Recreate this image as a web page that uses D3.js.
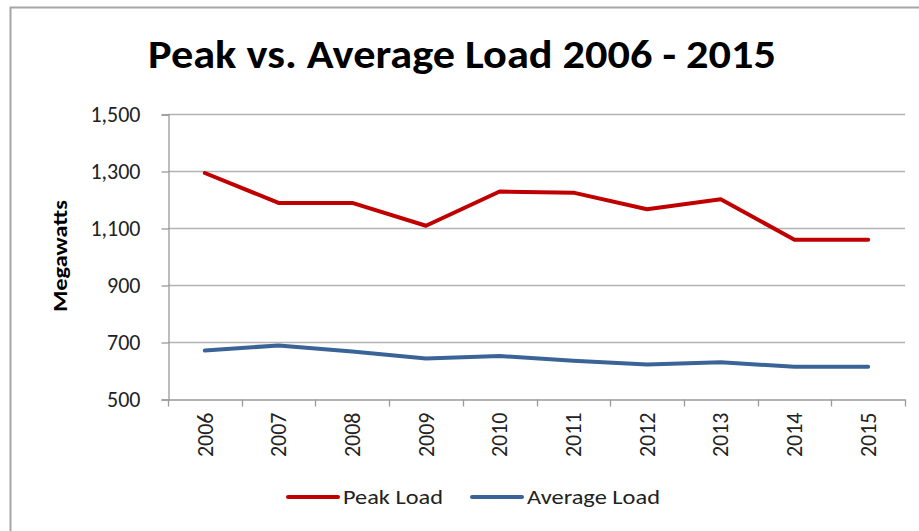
<!DOCTYPE html>
<html>
<head>
<meta charset="utf-8">
<script src="https://cdn.jsdelivr.net/npm/d3@7"></script>
<style>
  body { margin: 0; background: #fff; }
  svg { display: block; font-family: Carlito, Lato, "Open Sans", sans-serif; }
</style>
</head>
<body>
<svg id="chart" width="919" height="531"></svg>
<script>
// chart data
var years = ["2006", "2007", "2008", "2009", "2010", "2011", "2012", "2013", "2014", "2015"];
var peakLoad = [1293, 1188, 1188, 1108, 1228, 1224, 1166, 1201, 1059, 1059];
var avgLoad = [670, 688, 667, 642, 651, 634, 621, 629, 613, 613];
var yTicks = [500, 700, 900, 1100, 1300, 1500];
var seriesNames = ["Peak Load", "Average Load"];
var seriesColors = ["#c00000", "#3a6497"];

var svg = d3.select("#chart");
var fontStack = "Carlito, Lato, 'Open Sans', sans-serif";

// outer frame (top + left only)
svg.append("path")
  .attr("d", "M10.5,531 L10.5,7.5 L919,7.5")
  .attr("fill", "none")
  .attr("stroke", "#a6a6a6")
  .attr("stroke-width", 2);

var plotLeft = 168, plotRight = 905, plotTop = 114, plotBottom = 399;

var x = d3.scaleBand()
  .domain(years)
  .range([plotLeft, plotRight]);

var y = d3.scaleLinear()
  .domain([500, 1500])
  .range([plotBottom, plotTop]);

// title
svg.append("text")
  .attr("x", 462)
  .attr("y", 68)
  .attr("text-anchor", "middle")
  .attr("font-size", 40)
  .attr("font-weight", "bold")
  .attr("textLength", 628)
  .attr("lengthAdjust", "spacingAndGlyphs")
  .text("Peak vs. Average Load 2006 - 2015");

// grid lines
svg.append("g")
  .selectAll("line")
  .data(yTicks.slice(1))
  .enter().append("line")
  .attr("x1", plotLeft).attr("x2", plotRight)
  .attr("y1", function(d) { return Math.round(y(d)) + 0.5; })
  .attr("y2", function(d) { return Math.round(y(d)) + 0.5; })
  .attr("stroke", "#b3b3b3")
  .attr("stroke-width", 1.3);

// y axis
var yAxis = svg.append("g")
  .attr("transform", "translate(" + (plotLeft + 0.5) + ",0.5)")
  .call(d3.axisLeft(y).tickValues(yTicks).tickFormat(d3.format(",")).tickSizeOuter(0).tickSize(7).tickPadding(21));
yAxis.select(".domain").attr("stroke", "#9a9a9a").attr("stroke-width", 1.3);
yAxis.selectAll(".tick line").attr("stroke", "#9a9a9a").attr("stroke-width", 1.3);
yAxis.selectAll(".tick text")
  .attr("font-size", 22)
  .attr("fill", "#222")
  .attr("font-family", fontStack);

// x axis
var xAxis = svg.append("g")
  .attr("transform", "translate(0," + (plotBottom + 0.5) + ")")
  .call(d3.axisBottom(x).tickSize(0).tickSizeOuter(0));
xAxis.select(".domain").attr("stroke", "#9a9a9a").attr("stroke-width", 1.3);
xAxis.selectAll(".tick text")
  .attr("font-size", 22)
  .attr("fill", "#222")
  .attr("font-family", fontStack)
  .attr("text-anchor", "end")
  .attr("dy", "0.35em")
  .attr("transform", "translate(0,13) rotate(-90)")
  .attr("x", 0)
  .attr("y", 0);

// x tick marks at band edges
xAxis.append("g")
  .selectAll("line")
  .data(years.concat(["end"]))
  .enter().append("line")
  .attr("x1", function(d, i) { return Math.round(plotLeft + i * x.step()) + 0.5; })
  .attr("x2", function(d, i) { return Math.round(plotLeft + i * x.step()) + 0.5; })
  .attr("y1", 0).attr("y2", 7)
  .attr("stroke", "#9a9a9a")
  .attr("stroke-width", 1.3);

// y axis title
svg.append("text")
  .attr("transform", "translate(67,256) rotate(-90)")
  .attr("text-anchor", "middle")
  .attr("font-size", 21)
  .attr("font-weight", "bold")
  .attr("textLength", 112)
  .attr("lengthAdjust", "spacingAndGlyphs")
  .text("Megawatts");

// lines
var line = d3.line()
  .x(function(d, i) { return x(years[i]) + x.bandwidth() / 2; })
  .y(function(d) { return y(d); });

[peakLoad, avgLoad].forEach(function(series, i) {
  svg.append("path")
    .datum(series)
    .attr("fill", "none")
    .attr("stroke", seriesColors[i])
    .attr("stroke-width", 4)
    .attr("stroke-linejoin", "round")
    .attr("stroke-linecap", "round")
    .attr("d", line);
});

// legend
var legendX = [288, 472];
var legendLen = [100, 133];
var legend = svg.append("g")
  .selectAll("g")
  .data(seriesNames)
  .enter().append("g")
  .attr("transform", function(d, i) { return "translate(" + legendX[i] + ",497)"; });

legend.append("line")
  .attr("x1", 0).attr("x2", 50)
  .attr("stroke", function(d, i) { return seriesColors[i]; })
  .attr("stroke-width", 4)
  .attr("stroke-linecap", "round");

legend.append("text")
  .attr("x", 55)
  .attr("dy", "0.35em")
  .attr("font-size", 21)
  .attr("fill", "#222")
  .attr("textLength", function(d, i) { return legendLen[i]; })
  .attr("lengthAdjust", "spacingAndGlyphs")
  .text(function(d) { return d; });
</script>
</body>
</html>
